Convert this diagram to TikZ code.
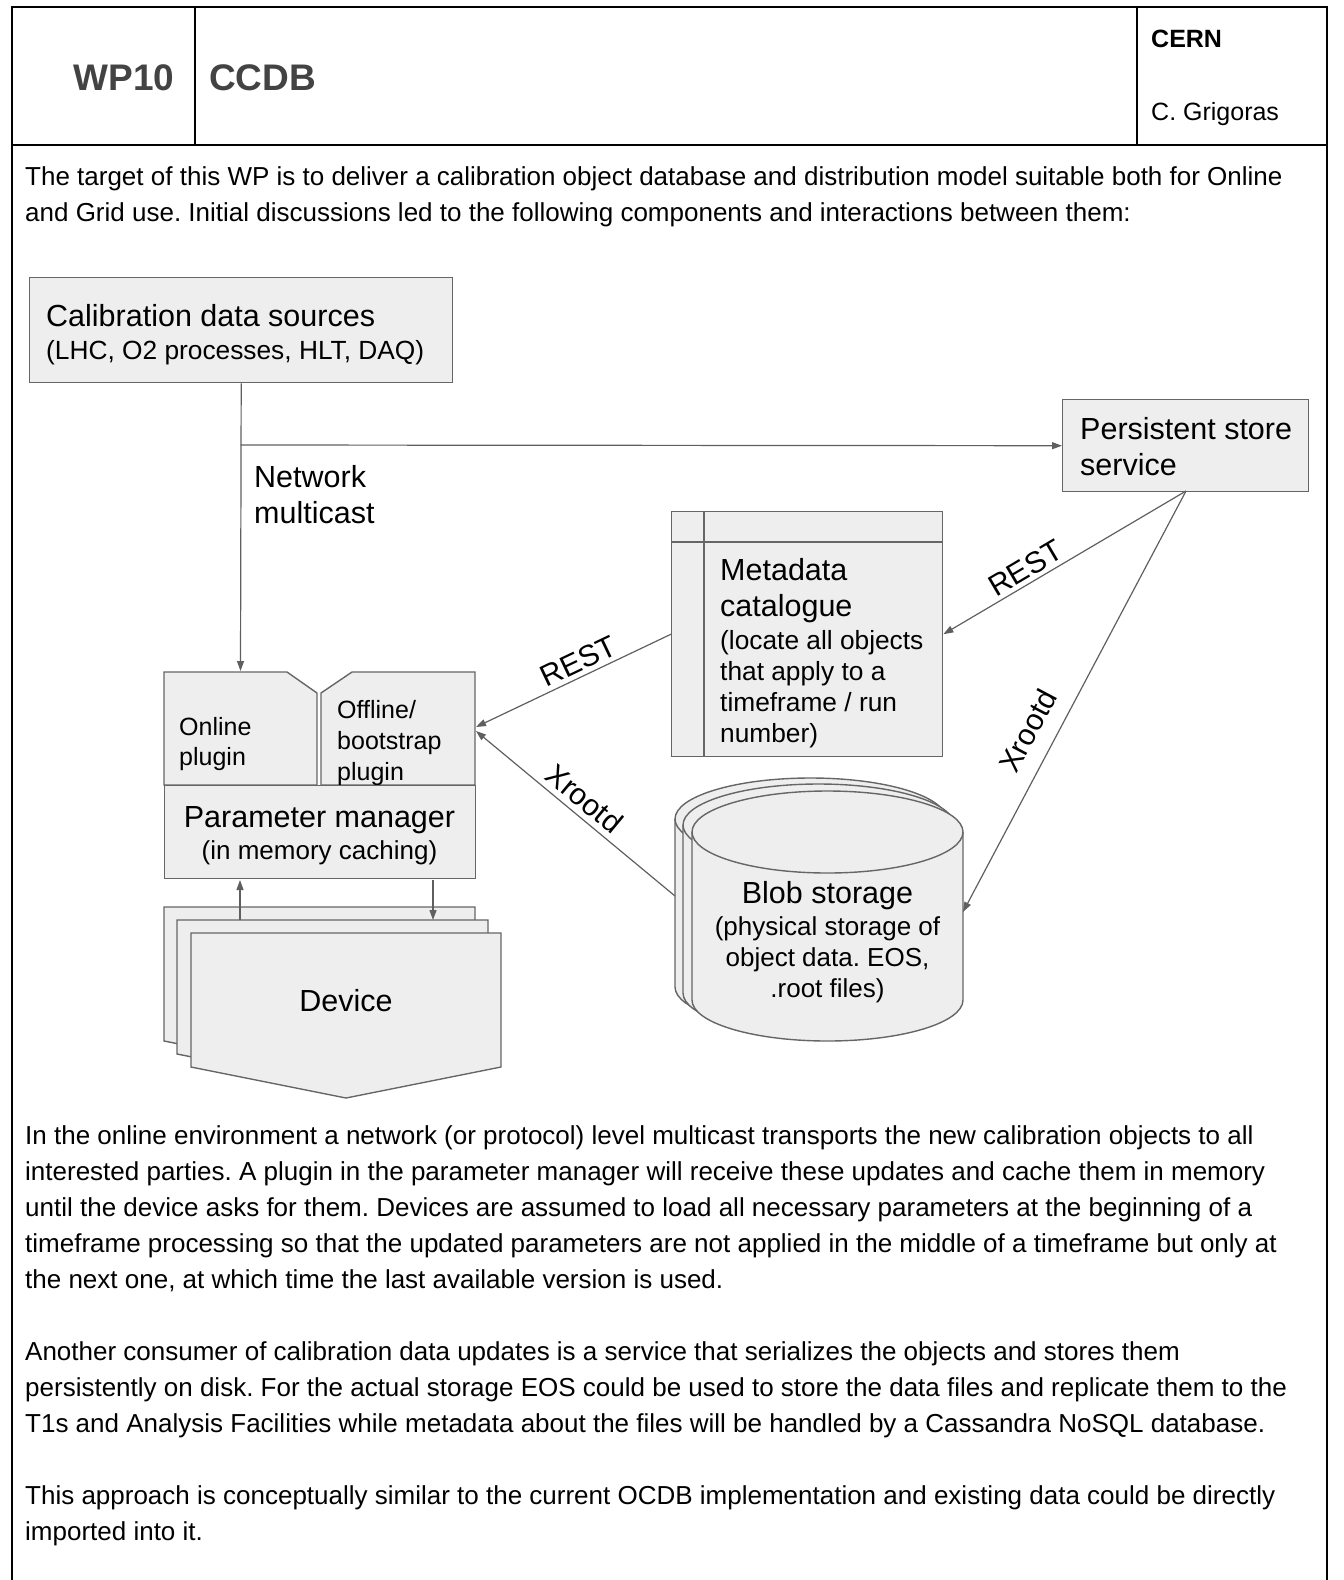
\documentclass[tikz,border=0pt]{standalone}
\usepackage{fontspec}
\setmainfont{Liberation Sans}
\usetikzlibrary{arrows.meta}
\definecolor{boxfill}{HTML}{EEEEEE}
\definecolor{boxline}{HTML}{666666}
\definecolor{arrowc}{HTML}{5F5F5F}
\definecolor{headgray}{HTML}{434343}
\tikzset{
  box/.style={draw=boxline, fill=boxfill, line width=1.4pt},
  rbox/.style={box, anchor=north west, inner sep=0},
  conn/.style={draw=arrowc, line width=1.2pt, -{Triangle[length=10pt,width=7pt]}},
  tbl/.style={draw=black, line width=2pt},
  t30/.style={inner sep=0, anchor=base west, font=\fontsize{30.5}{36}\selectfont},
  t26/.style={inner sep=0, anchor=base west, font=\fontsize{26.3}{31}\selectfont},
  t25/.style={inner sep=0, anchor=base west, font=\fontsize{25}{30}\selectfont},
  body/.style={inner sep=0, anchor=base west, font=\fontsize{26}{36}\selectfont},
  lbl/.style={inner sep=0, font=\fontsize{30}{36}\selectfont},
}
\begin{document}
\frenchspacing
\begin{tikzpicture}[x=1pt,y=-1pt]
\useasboundingbox (0,0) rectangle (1344,1580);
% table frame
\draw[tbl] (12,1582) -- (12,7) -- (1327,7) -- (1327,1582);
\draw[tbl] (12,145) -- (1327,145);
\draw[tbl] (195,7) -- (195,145);
\draw[tbl] (1137,7) -- (1137,145);
% header texts
\node[inner sep=0, anchor=base, font=\fontsize{37}{40}\selectfont\bfseries, text=headgray] (wp) at (124,90) {WP10};
\node[inner sep=0, anchor=base west, font=\fontsize{37}{40}\selectfont\bfseries, text=headgray] (ccdb) at (209,90) {CCDB};
\node[inner sep=0, anchor=base west, font=\fontsize{25}{30}\selectfont\bfseries] (cern) at (1151,47) {CERN};
\node[inner sep=0, anchor=base west, font=\fontsize{25}{30}\selectfont] (auth) at (1151,120) {C. Grigoras};
% intro paragraph
\node[body] (p1a) at (25,185) {The target of this WP is to deliver a calibration object database and distribution model suitable both for Online};
\node[body] (p1b) at (25,221) {and Grid use. Initial discussions led to the following components and interactions between them:};

% Calibration data sources
\node[rbox, minimum width=423pt, minimum height=105pt] (cal) at (29,277) {};
\node[t30] (calt1) at (46,326) {Calibration data sources};
\node[t26] (calt2) at (46,359) {(LHC, O2 processes, HLT, DAQ)};

% Persistent store service
\node[rbox, minimum width=246pt, minimum height=92pt] (pss) at (1062,399) {};
\node[t30] (psst1) at (1080,439) {Persistent store};
\node[t30] (psst2) at (1080,475) {service};

% Network multicast label
\node[t30] (nm1) at (254,487) {Network};
\node[t30] (nm2) at (254,523) {multicast};

% Metadata catalogue
\node[rbox, minimum width=271pt, minimum height=245pt] (meta) at (671,511) {};
\draw[draw=boxline, line width=1.4pt] (671,542) -- (942,542);
\draw[draw=boxline, line width=1.4pt] (704,511) -- (704,756);
\node[t30] (mt1) at (720,580) {Metadata};
\node[t30] (mt2) at (720,616) {catalogue};
\node[t26] (mt3) at (720,649) {(locate all objects};
\node[t26] (mt4) at (720,680) {that apply to a};
\node[t26] (mt5) at (720,711) {timeframe / run};
\node[t26] (mt6) at (720,742) {number)};

% Plugins
\path[box] (164,672) -- (287,672) -- (317,693) -- (317,785) -- (164,785) -- cycle;
\path[box] (321,693) -- (352,672) -- (475,672) -- (475,785) -- (321,785) -- cycle;
\node[t25] (on1) at (179,735) {Online};
\node[t25] (on2) at (179,765) {plugin};
\node[t25] (of1) at (337,718) {Offline/};
\node[t25] (of2) at (337,749) {bootstrap};
\node[t25] (of3) at (337,780) {plugin};

% Parameter manager
\node[rbox, minimum width=311pt, minimum height=93pt] (pm) at (164,785) {};
\node[inner sep=0, anchor=base, font=\fontsize{30.5}{36}\selectfont] (pmt1) at (319.5,827) {Parameter manager};
\node[inner sep=0, anchor=base, font=\fontsize{26}{31}\selectfont] (pmt2) at (319.5,859) {(in memory caching)};

% Devices
\path[box] (164,907) -- (475,907) -- (475,1041) -- (320,1072) -- (164,1041) -- cycle;
\path[box] (177,920) -- (488,920) -- (488,1054) -- (333,1085) -- (177,1054) -- cycle;
\path[box] (191,933) -- (501,933) -- (501,1067) -- (346,1098) -- (191,1067) -- cycle;
\node[inner sep=0, anchor=base, font=\fontsize{30.5}{36}\selectfont] (dev) at (346,1011) {Device};

% Blob storage cylinders
\foreach \dx/\dy in {-17/-13, -9/-7, 0/0}{
  \path[box] (692+\dx,832+\dy) -- (692+\dx,1000+\dy)
    arc[start angle=180,end angle=360,x radius=135.5pt,y radius=41pt]
    -- (963+\dx,832+\dy)
    arc[start angle=0,end angle=180,x radius=135.5pt,y radius=41pt] -- cycle;
  \draw[draw=boxline, line width=1.4pt] (692+\dx,832+\dy)
    arc[start angle=180,end angle=360,x radius=135.5pt,y radius=41pt];
}
\node[inner sep=0, anchor=base, font=\fontsize{30.5}{36}\selectfont] (bl1) at (827.5,903) {Blob storage};
\node[inner sep=0, anchor=base, font=\fontsize{26}{31}\selectfont] (bl2) at (827.5,935) {(physical storage of};
\node[inner sep=0, anchor=base, font=\fontsize{26}{31}\selectfont] (bl3) at (827.5,966) {object data. EOS,};
\node[inner sep=0, anchor=base, font=\fontsize{26}{31}\selectfont] (bl4) at (827.5,997) {.root files)};

% connector end points
\coordinate (onlTop) at (240.5,671);
\coordinate (mc) at (240.5,445);
\coordinate (pssB) at (1186,491);
\coordinate (offR1) at (476,727);
\coordinate (offR2) at (476,731);
\coordinate (blobL) at (675,896);
\coordinate (blobR) at (963,912);
\coordinate (devU) at (240,920);
\coordinate (pmU) at (240,880);
\coordinate (pmD) at (433,880);
\coordinate (devD) at (433,920);

% connectors
\draw[conn] (cal.south) -- (onlTop);
\draw[conn] (mc) -- (pss.west);
\draw[conn] (pssB) -- node[lbl, sloped, above=4pt, pos=0.63] (rest2) {REST} (meta.east);
\draw[conn] (pssB) -- node[lbl, sloped, above=16pt, pos=0.60] (xr2) {Xrootd} (blobR);
\draw[conn] (meta.west) -- node[lbl, sloped, above=4pt, pos=0.44] (rest1) {REST} (offR1);
\draw[conn] (blobL) -- node[lbl, sloped, above=6pt, pos=0.51] (xr1) {Xrootd} (offR2);
\draw[conn] (devU) -- (pmU);
\draw[conn] (pmD) -- (devD);

% lower paragraphs
\node[body] (p2a) at (25,1144) {In the online environment a network (or protocol) level multicast transports the new calibration objects to all};
\node[body] (p2b) at (25,1180) {interested parties. A plugin in the parameter manager will receive these updates and cache them in memory};
\node[body] (p2c) at (25,1216) {until the device asks for them. Devices are assumed to load all necessary parameters at the beginning of a};
\node[body] (p2d) at (25,1252) {timeframe processing so that the updated parameters are not applied in the middle of a timeframe but only at};
\node[body] (p2e) at (25,1288) {the next one, at which time the last available version is used.};
\node[body] (p3a) at (25,1360) {Another consumer of calibration data updates is a service that serializes the objects and stores them};
\node[body] (p3b) at (25,1396) {persistently on disk. For the actual storage EOS could be used to store the data files and replicate them to the};
\node[body] (p3c) at (25,1432) {T1s and Analysis Facilities while metadata about the files will be handled by a Cassandra NoSQL database.};
\node[body] (p4a) at (25,1504) {This approach is conceptually similar to the current OCDB implementation and existing data could be directly};
\node[body] (p4b) at (25,1540) {imported into it.};
\end{tikzpicture}
\end{document}
